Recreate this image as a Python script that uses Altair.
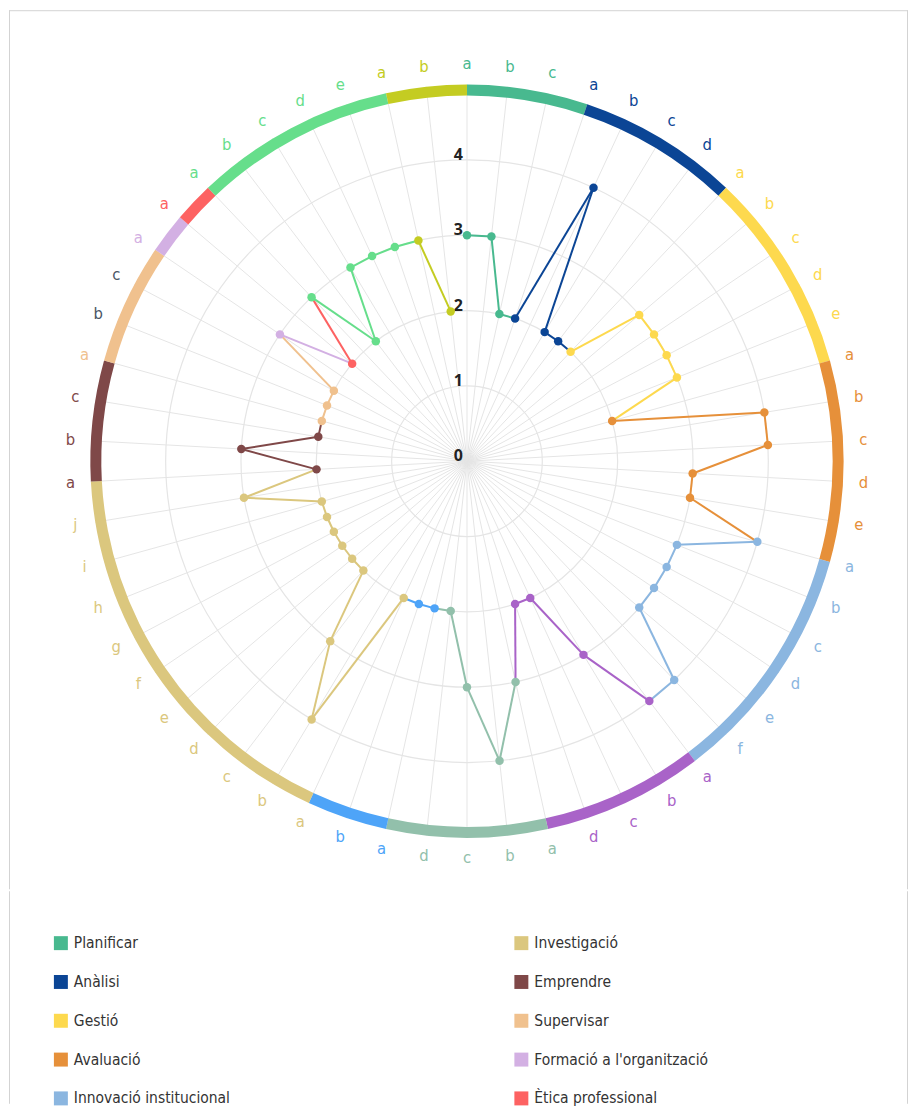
import math
import altair as alt
import pandas as pd

# ---------------- data ----------------
categories = ["Planificar", "Anàlisi", "Gestió", "Avaluació", "Innovació institucional",
              "Comunicació", "Treball en equip", "Lideratge", "Investigació", "Emprendre",
              "Supervisar", "Formació a l'organització", "Ètica professional",
              "Orientació", "Coordinació"]
counts = [3, 4, 5, 5, 6, 4, 4, 2, 10, 3, 3, 1, 1, 5, 2]
colors = ["#48b98f", "#0b4595", "#fdd94e", "#e6903a", "#8bb6e0", "#a963c8", "#92c0ab",
          "#4ea4f8", "#dbc77e", "#7f4848", "#f0c18e", "#d3b0e3", "#fd6262", "#66de8b",
          "#c4cc22"]
values = [3, 3, 2,
          2, 4, 2, 2,
          2, 3, 3, 3, 3,
          2, 4, 4, 3, 3,
          4, 3, 3, 3, 3, 4,
          4, 3, 2, 2,
          3, 4, 3, 2,
          2, 2,
          2, 4, 3, 2, 2, 2, 2, 2, 2, 3,
          2, 3, 2,
          2, 2, 2,
          3,
          2,
          3, 2, 3, 3, 3,
          3, 2]
ticks = [0, 1, 2, 3, 4]
grid_levels = [1, 2, 3, 4]
letters = "abcdefghij"

# ---------------- tables ----------------
N = sum(counts)
rows, arcs = [], []
i = 0
for cat, n in zip(categories, counts):
    arcs.append({"cat": cat, "start": i, "end": i + n})
    for k in range(n):
        rows.append({"idx": i, "cat": cat, "letter": letters[k], "value": values[i]})
        i += 1
pts = pd.DataFrame(rows)
arcs_df = pd.DataFrame(arcs)

# ---------------- geometry ----------------
PX = 75.5
W = 901
H1 = 880
CX, CY = 459, 452
xs = alt.Scale(domain=[-CX / PX, (W - CX) / PX], nice=False, zero=False)
ys = alt.Scale(domain=[-(H1 - CY) / PX, CY / PX], nice=False, zero=False)
ts = alt.Scale(domain=[0, N], range=[0, 2 * math.pi])
rs = alt.Scale(type="linear", domain=[0, 5], range=[0, 5 * PX], zero=True, nice=False)
ss = alt.Scale(type="pow", exponent=2, domain=[0, 5], range=[0, (10 * PX) ** 2], zero=True, nice=False)
cs = alt.Scale(domain=categories, range=colors)
FONT = "DejaVu Sans Condensed, DejaVu Sans, sans-serif"

ang = f"datum.idx * 2 * PI / {N}"
base = alt.Chart(pts).transform_calculate(ang=ang)

spokes = base.transform_calculate(
    sx="5 * sin(datum.ang)", sy="5 * cos(datum.ang)", z="0"
).mark_rule(color="#e5e5e5", strokeWidth=1).encode(
    x=alt.X("z:Q", scale=xs, axis=None),
    y=alt.Y("z:Q", scale=ys, axis=None),
    x2="sx:Q", y2="sy:Q",
)

grid = alt.Chart(pd.DataFrame({"r": grid_levels})).mark_point(
    shape="circle", filled=False, stroke="#e5e5e5", strokeWidth=1.2, opacity=1
).encode(
    x=alt.XDatum(0, scale=xs, axis=None),
    y=alt.YDatum(0, scale=ys, axis=None),
    size=alt.Size("r:Q", scale=ss, legend=None),
)

ring = alt.Chart(arcs_df).mark_arc().encode(
    x=alt.XDatum(0, scale=xs, axis=None),
    y=alt.YDatum(0, scale=ys, axis=None),
    theta=alt.Theta("start:Q", scale=ts, stack=False),
    theta2="end:Q",
    radius=alt.RadiusDatum(5, scale=rs),
    radius2=alt.Radius2Datum(5 - 11 / PX),
    color=alt.Color("cat:N", scale=cs, legend=None),
)

labels = base.transform_calculate(
    lx="5.27 * sin(datum.ang)", ly="5.27 * cos(datum.ang)"
).mark_text(font=FONT, fontSize=16.5, align="center", baseline="middle").encode(
    x=alt.X("lx:Q", scale=xs, axis=None),
    y=alt.Y("ly:Q", scale=ys, axis=None),
    text="letter:N",
    color=alt.condition(
        "datum.cat == 'Supervisar' && datum.letter != 'a'",
        alt.value("#4b5565"),
        alt.Color("cat:N", scale=cs, legend=None),
    ),
)

tick_text = alt.Chart(pd.DataFrame({"t": ticks})).mark_text(
    align="right", baseline="alphabetic", dx=-4, fontSize=16, fontWeight="bold",
    font="Open Sans", color="#222222"
).encode(
    x=alt.XDatum(0, scale=xs, axis=None),
    y=alt.Y("t:Q", scale=ys, axis=None),
    text="t:Q",
)

pos = base.transform_calculate(
    px="datum.value * sin(datum.ang)", py="datum.value * cos(datum.ang)"
)

segments = pos.transform_window(
    nx="lead(px)", ny="lead(py)", sort=[alt.SortField("idx")]
).transform_filter("isValid(datum.nx)").mark_rule(strokeWidth=2).encode(
    x=alt.X("px:Q", scale=xs, axis=None),
    y=alt.Y("py:Q", scale=ys, axis=None),
    x2="nx:Q", y2="ny:Q",
    color=alt.Color("cat:N", scale=cs, legend=None),
)

points = pos.mark_circle(size=72, opacity=1).encode(
    x=alt.X("px:Q", scale=xs, axis=None),
    y=alt.Y("py:Q", scale=ys, axis=None),
    color=alt.Color("cat:N", scale=cs, legend=None),
)

one = pd.DataFrame({"k": [0]})
frame_left = alt.Chart(one).mark_rule(color="#d3d3d3").encode(
    x=alt.value(0.5), y=alt.value(0), y2=alt.value(H1 + 1))
frame_top = alt.Chart(one).mark_rule(color="#d3d3d3").encode(
    y=alt.value(0.5), x=alt.value(0), x2=alt.value(W))
frame_right = alt.Chart(one).mark_rule(color="#d3d3d3").encode(
    x=alt.value(W - 0.5), y=alt.value(0), y2=alt.value(H1 + 1))

radar = alt.layer(
    frame_left, frame_top, frame_right,
    spokes, grid, ring, labels, tick_text, segments, points
).properties(width=W, height=H1)

# ---------------- legend ----------------
LH = 212
ROWS = 8
leg = alt.Chart(pd.DataFrame({"cat": categories, "i": list(range(len(categories)))})).transform_calculate(
    col=f"floor(datum.i / {ROWS})", row=f"datum.i % {ROWS}"
).transform_filter("datum.row < 5")
lx = alt.X("col:Q", scale=alt.Scale(domain=[0, 1], range=[52, 513.5]), axis=None)
ly = alt.Y("row:Q", scale=alt.Scale(domain=[0, 4], range=[51, 51 + 4 * 38.9]), axis=None)
swatch = leg.mark_square(size=196, opacity=1).encode(
    x=lx, y=ly, color=alt.Color("cat:N", scale=cs, legend=None))
ltext = leg.mark_text(align="left", baseline="middle", dx=13, font=FONT, fontSize=15.5,
                      color="#333333").encode(x=lx, y=ly, text="cat:N")
lframe_l = alt.Chart(one).mark_rule(color="#d3d3d3").encode(
    x=alt.value(0.5), y=alt.value(-1), y2=alt.value(LH))
lframe_r = alt.Chart(one).mark_rule(color="#d3d3d3").encode(
    x=alt.value(W - 0.5), y=alt.value(-1), y2=alt.value(LH))
legend = alt.layer(lframe_l, lframe_r, swatch, ltext).properties(width=W, height=LH)

chart = alt.vconcat(radar, legend, spacing=0).properties(padding=0).configure_view(strokeWidth=0)
chart.save("out.html", embed_options={"renderer": "svg", "actions": False})
